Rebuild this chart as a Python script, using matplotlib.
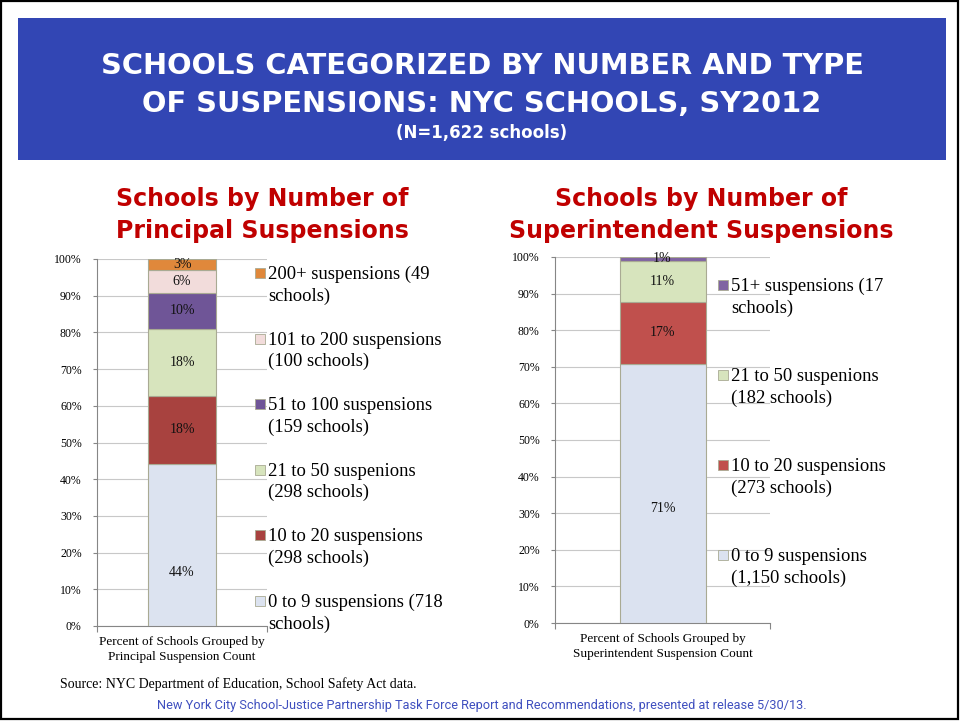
import matplotlib.pyplot as plt
from matplotlib.patches import Rectangle

# data
principal_counts = [718, 298, 298, 159, 100, 49]
principal_pct = ["44%", "18%", "18%", "10%", "6%", "3%"]
principal_legend = ["0 to 9 suspensions (718\nschools)",
                    "10 to 20 suspensions\n(298 schools)",
                    "21 to 50 suspenions\n(298 schools)",
                    "51 to 100 suspensions\n(159 schools)",
                    "101 to 200 suspensions\n(100 schools)",
                    "200+ suspensions (49\nschools)"]
principal_colors = ["#DCE3F0", "#A8423F", "#D7E4BD", "#6F5597", "#F2DCDB", "#E0883B"]

super_counts = [1150, 273, 182, 17]
super_pct = ["71%", "17%", "11%", "1%"]
super_legend = ["0 to 9 suspensions\n(1,150 schools)",
                "10 to 20 suspensions\n(273 schools)",
                "21 to 50 suspenions\n(182 schools)",
                "51+ suspensions (17\nschools)"]
super_colors = ["#DBE2F0", "#C0504D", "#D7E4BD", "#8064A2"]

W, H = 960, 721
SERIF = ["Liberation Serif", "DejaVu Serif"]
NARROW = ["Roboto", "DejaVu Sans"]

fig = plt.figure(figsize=(W / 100, H / 100), dpi=100)
fig.patch.set_facecolor("white")


def fx(x):
    return x / W


def fy(y):
    return 1 - y / H


# frame + banner
fig.add_artist(Rectangle((fx(1), fy(719)), fx(957), 718 / H, transform=fig.transFigure,
                         fill=False, edgecolor="black", lw=1.6))
fig.add_artist(Rectangle((fx(18), fy(160)), fx(928), 142 / H, transform=fig.transFigure,
                         facecolor="#3246B4", edgecolor="none"))
fig.text(fx(482), fy(66), "SCHOOLS CATEGORIZED BY NUMBER AND TYPE", color="white",
         fontsize=20.8, fontweight="bold", ha="center", va="center")
fig.text(fx(482), fy(104), "OF SUSPENSIONS: NYC SCHOOLS, SY2012", color="white",
         fontsize=20.8, fontweight="bold", ha="center", va="center")
fig.text(fx(482), fy(133), "(N=1,622 schools)", color="white",
         fontsize=12, fontweight="bold", ha="center", va="center")


def draw_chart(box, counts, pct, legend, colors, first_frac, xlabel, title, title_x,
               leg_x, leg_y0, leg_step):
    x0, x1, y100, y0 = box
    ax = fig.add_axes([fx(x0), fy(y0), fx(x1 - x0), (y0 - y100) / H])
    total = sum(counts)
    bottom = 0
    for i, c in enumerate(counts):
        v = c / total
        ax.bar(0, v, width=0.4, bottom=bottom, color=colors[i], edgecolor="#A9AA93",
               linewidth=0.8, zorder=3)
        frac = first_frac if i == 0 else 0.5
        ax.text(0, bottom + v * frac, pct[i], ha="center", va="center", fontsize=10,
                family=SERIF, color="#111111", zorder=4)
        bottom += v
    ax.set_xlim(-0.5, 0.5)
    ax.set_ylim(0, 1)
    ax.set_yticks([i / 10 for i in range(11)])
    ax.set_yticklabels([f"{i * 10}%" for i in range(11)], family=SERIF, fontsize=8.5)
    ax.set_xticks([-0.5, 0.5])
    ax.set_xticklabels(["", ""])
    ax.tick_params(axis="y", length=3, color="#868686", pad=8)
    ax.tick_params(axis="x", length=4, color="#868686")
    ax.grid(axis="y", color="#C8C8C8", lw=0.8, zorder=0)
    for s in ["top", "right"]:
        ax.spines[s].set_visible(False)
    for s in ["left", "bottom"]:
        ax.spines[s].set_color("#868686")
    ax.text(0, -0.026, xlabel, transform=ax.transData, ha="center", va="top",
            fontsize=9.5, family=SERIF, linespacing=1.38)

    # legend, top entry is the last series
    n = len(counts)
    for k in range(n):
        i = n - 1 - k
        yc = leg_y0 + k * leg_step
        fig.add_artist(Rectangle((fx(leg_x), fy(yc + 5)), fx(10), 10 / H,
                                 transform=fig.transFigure, facecolor=colors[i],
                                 edgecolor="#A9AA93", lw=0.6))
        fig.text(fx(leg_x + 13), fy(yc - 7), legend[i], ha="left", va="top",
                 fontsize=13.4, family=SERIF, linespacing=1.32)

    fig.text(fx(title_x), fy(215), title, color="#C00000", fontsize=17, fontweight="bold",
             ha="center", va="center", linespacing=1.42)


draw_chart((97, 267, 259, 626), principal_counts, principal_pct, principal_legend,
           principal_colors, 0.33, "Percent of Schools Grouped by\nPrincipal Suspension Count",
           "Schools by Number of\nPrincipal Suspensions", 262, 255, 273, 65.6)
draw_chart((555, 770, 257, 623), super_counts, super_pct, super_legend,
           super_colors, 0.44, "Percent of Schools Grouped by\nSuperintendent Suspension Count",
           "Schools by Number of\nSuperintendent Suspensions", 701, 718, 285, 90)

fig.text(fx(60), fy(684), "Source: NYC Department of Education, School Safety Act data.",
         fontsize=10, family=SERIF, ha="left", va="center")
fig.text(fx(482), fy(705),
         "New York City School-Justice Partnership Task Force Report and Recommendations, presented at release 5/30/13.",
         fontsize=9.2, family=NARROW, color="#3F4FBF", ha="center", va="center")

fig.savefig("out.png", dpi=100)
